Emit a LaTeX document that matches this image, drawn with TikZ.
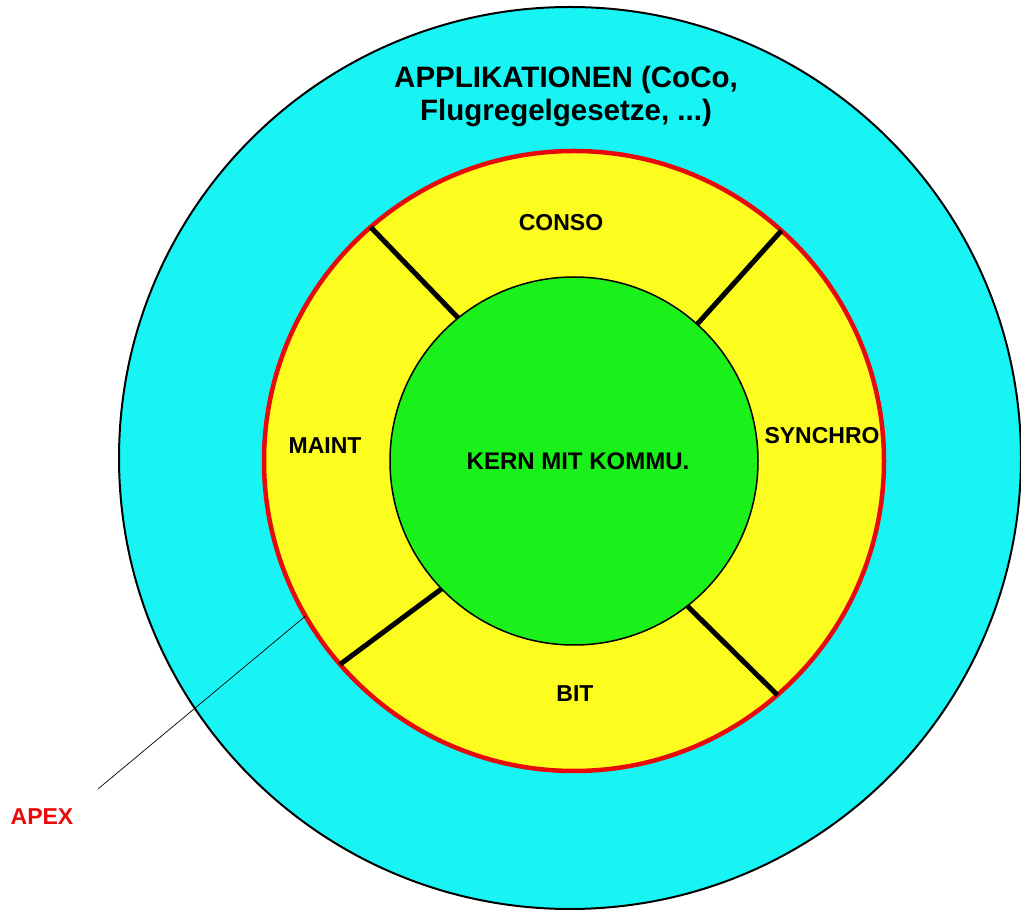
\documentclass[tikz,border=0pt]{standalone}
\usepackage{fontspec}
\setmainfont{Liberation Sans}
\definecolor{appcyan}{RGB}{24,244,244}
\definecolor{ringyellow}{RGB}{252,252,30}
\definecolor{kerngreen}{RGB}{26,240,26}
\definecolor{apexred}{RGB}{232,10,10}
\begin{document}
\begin{tikzpicture}[x=1pt,y=1pt,
  disc/.style={circle, inner sep=0pt, outer sep=0pt},
  lbl/.style={font=\fontsize{23}{26}\selectfont\bfseries, inner sep=0pt},
  divider/.style={line width=5pt},
  leader/.style={line width=0.7pt}]
\useasboundingbox (0,0) rectangle (1021,911);
\clip (0,0) rectangle (1021,911);
% layers, from the applications down to the kernel
\node[disc, draw=black, line width=2pt, fill=appcyan, minimum size=902pt] (apps) at (570,453) {};
\node[disc, draw=apexred, line width=4.5pt, fill=ringyellow, minimum size=620pt] (ring) at (574,450) {};
\node[disc, draw=black, line width=1.5pt, fill=kerngreen, minimum size=368pt] (core) at (574,450) {};
% sector dividers of the service ring
\draw[divider] (ring.131.4) -- (core.129.2);
\draw[divider] (ring.48.1) -- (core.48.3);
\draw[divider] (ring.221.5) -- (core.224.1);
\draw[divider] (ring.-49.3) -- (core.-52.3);
% labels
\node[font=\fontsize{29.5}{33}\selectfont\bfseries, inner sep=0pt, align=center, anchor=north] (title) at (566,845)
  {APPLIKATIONEN (CoCo,\\Flugregelgesetze, ...)};
\node[lbl] (conso) at (561,688) {CONSO};
\node[lbl] (synchro) at (822,475) {SYNCHRO};
\node[lbl] (maint) at (325,465) {MAINT};
\node[lbl, font=\fontsize{24}{26}\selectfont\bfseries] (kern) at (578,450) {KERN MIT KOMMU.};
\node[lbl] (bit) at (575,217) {BIT};
\node[lbl, text=apexred] (apex) at (42,94) {APEX};
% pointer from the APEX label to the ring
\coordinate (apexend) at (98,122);
\draw[leader] (apexend) -- (ring.210.2);
\end{tikzpicture}
\end{document}
